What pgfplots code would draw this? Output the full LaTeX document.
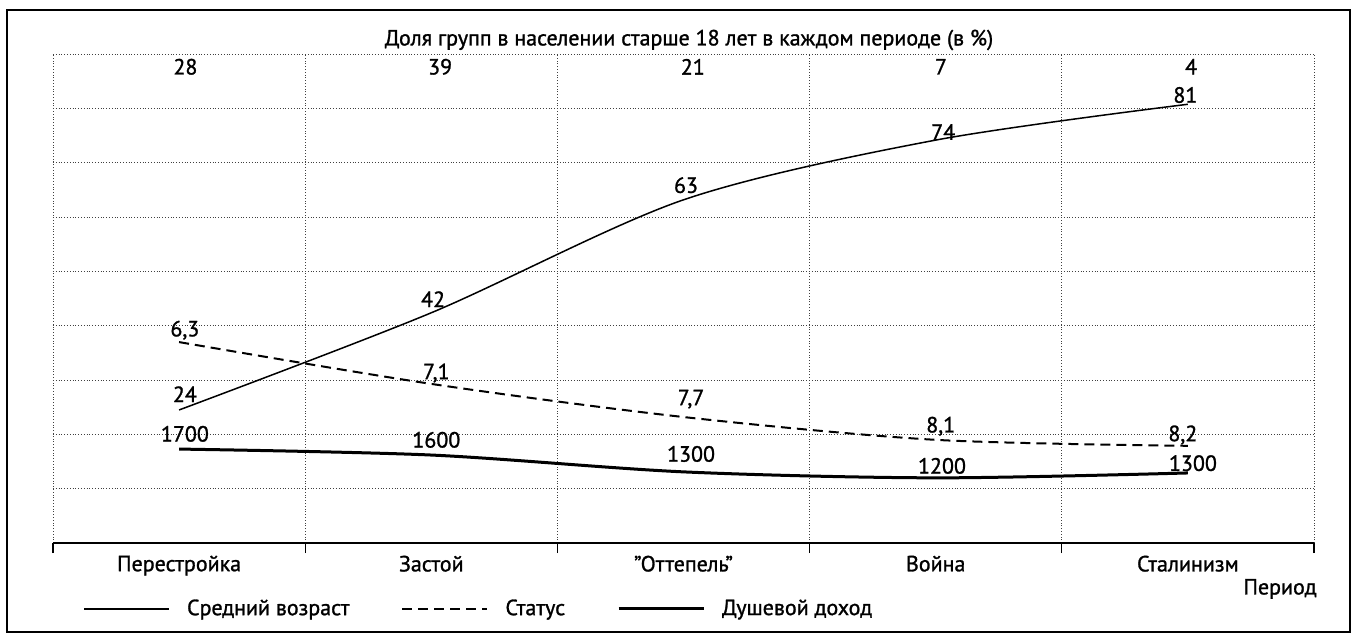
\documentclass[border=0pt]{standalone}
\usepackage{fontspec}
\setmainfont{PT Sans}[UprightFeatures={FakeBold=1.2}]
\usepackage{pgfplots}
\pgfplotsset{compat=1.18}
\begin{document}
\fontsize{11}{13.2}\selectfont
\begin{tikzpicture}
\begin{axis}[
  name=ax,
  scale only axis, width=630.5pt, height=244.35pt,
  xmin=0, xmax=5, ymin=0, ymax=9,
  axis line style={draw=none},
  xtick={0.5,1.5,2.5,3.5,4.5},
  xticklabels={Перестройка,Застой,{"Оттепель"},Война,Сталинизм},
  minor xtick={0,1,2,3,4,5},
  major tick length=0pt,
  minor tick length=5pt,
  tick align=outside,
  xtick pos=bottom,
  ytick={0,1,2,3,4,5,6,7,8,9},
  yticklabels={},
  ytick style={draw=none},
  xmajorgrids=false, xminorgrids=true, ymajorgrids=true,
  minor grid style={densely dotted, black!75, line width=0.45pt},
  major grid style={densely dotted, black!75, line width=0.45pt},
  minor x tick style={black, line width=0.6pt},
  xticklabel style={yshift=-2.5pt},
  clip=false,
  legend columns=3,
  legend style={draw=none, fill=none, inner sep=0pt, at={(0.0239,-0.135)}, anchor=west,
    /tikz/every odd column/.append style={column sep=6.5pt},
    /tikz/every even column/.append style={column sep=24pt}},
  legend image code/.code={\draw[#1] (0pt,0pt) -- (42.5pt,0pt);},
]
\addplot[black, line width=0.75pt, smooth] coordinates {(0.5,2.45) (1.5,4.24) (2.5,6.32) (3.5,7.42) (4.5,8.08)};
\addlegendentry{Средний возраст}
\addplot[black, line width=1pt, dash pattern=on 5pt off 3pt, smooth] coordinates {(0.5,3.70) (1.5,2.93) (2.5,2.32) (3.5,1.90) (4.5,1.79)};
\addlegendentry{Статус}
\addplot[black, line width=1.5pt, smooth] coordinates {(0.5,1.73) (1.5,1.62) (2.5,1.31) (3.5,1.20) (4.5,1.29)};
\addlegendentry{Душевой доход}
\draw[line width=0.8pt] (rel axis cs:0,0) -- (rel axis cs:1,0);
\begin{scope}[every node/.style={inner sep=0pt}]
\node at (axis cs:0.525,8.77) {28};
\node at (axis cs:1.535,8.77) {39};
\node at (axis cs:2.537,8.77) {21};
\node at (axis cs:3.521,8.77) {7};
\node at (axis cs:4.513,8.77) {4};
\node at (axis cs:0.523,2.74) {24};
\node at (axis cs:1.507,4.49) {42};
\node at (axis cs:2.51,6.59) {63};
\node at (axis cs:3.53,7.57) {74};
\node at (axis cs:4.49,8.25) {81};
\node at (axis cs:0.523,3.92) {6,3};
\node at (axis cs:1.52,3.13) {7,1};
\node at (axis cs:2.53,2.65) {7,7};
\node at (axis cs:3.52,2.15) {8,1};
\node at (axis cs:4.48,1.99) {8,2};
\node at (axis cs:0.523,2.01) {1700};
\node at (axis cs:1.52,1.90) {1600};
\node at (axis cs:2.53,1.64) {1300};
\node at (axis cs:3.525,1.42) {1200};
\node at (axis cs:4.52,1.47) {1300};
\node[anchor=east] at (rel axis cs:1.0024,-0.094) {Период};
\end{scope}
\end{axis}
\pgfresetboundingbox
\path[use as bounding box] ([shift={(-26.5pt,-45.5pt)}]ax.south west) rectangle ++(675.5pt,317pt);
\draw[line width=1pt] ([shift={(-23pt,-44.5pt)}]ax.south west) rectangle ++(671.5pt,311pt);
\node[inner sep=0pt] at ([shift={(318pt,251.5pt)}]ax.south west) {Доля групп в населении старше 18 лет в каждом периоде (в \%)};
\end{tikzpicture}
\end{document}
